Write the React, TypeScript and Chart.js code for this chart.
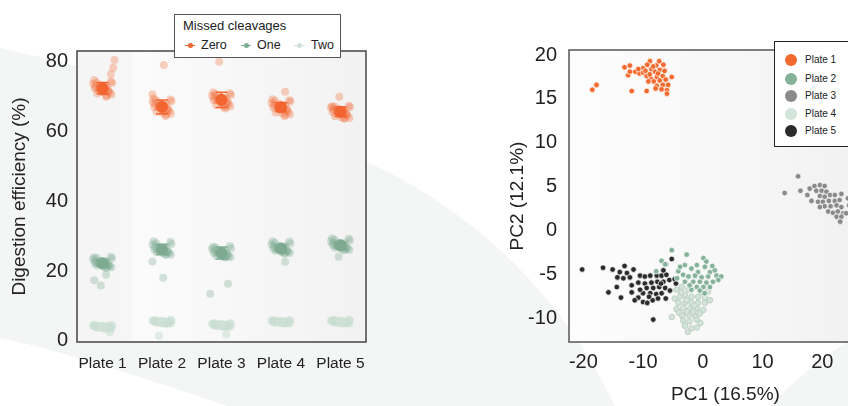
import React, { useEffect, useRef } from "react";
import { Chart, registerables } from "chart.js";

Chart.register(...registerables);

const FONT = "'Liberation Sans', Arial, Helvetica, sans-serif";

// ---------- Left panel data ----------
const PLATES = ["Plate 1", "Plate 2", "Plate 3", "Plate 4", "Plate 5"];
const LEFT_Y_TICKS = [0, 20, 40, 60, 80];
const JITTER = [-0.13, 0.09, -0.04, 0.15, -0.1, 0.02, 0.12, -0.16, 0.06, -0.07, 0.14, -0.01, -0.12, 0.07, 0.04, -0.09, 0.16, -0.05, 0.1, -0.14, 0.01, 0.07];

const ZERO_VALUES = [
  [72.4, 71.6, 73.2, 70.6, 74.0, 72.8, 71.1, 73.7, 70.0, 72.1, 74.4, 71.4, 73.0, 70.3, 72.6, 70.9, 73.9, 72.3, 71.8, 74.8, 71.3, 72.9],
  [67.0, 66.2, 68.1, 65.1, 69.0, 67.6, 65.8, 68.5, 64.5, 66.9, 69.2, 66.5, 67.9, 64.9, 67.3, 65.6, 68.7, 67.2, 66.6, 69.5, 65.4, 67.8],
  [69.0, 68.3, 70.0, 67.2, 70.7, 69.5, 67.9, 70.3, 66.6, 68.9, 71.0, 68.5, 69.8, 67.0, 69.3, 67.6, 70.5, 69.2, 68.7, 71.3, 67.4, 69.7],
  [66.9, 66.1, 67.9, 65.0, 68.8, 67.5, 65.7, 68.3, 64.4, 66.8, 69.0, 66.4, 67.7, 64.8, 67.2, 65.5, 68.6, 67.1, 66.5, 69.3, 65.3, 67.6],
  [65.6, 64.9, 66.5, 63.9, 67.2, 66.1, 64.6, 66.9, 63.7, 65.5, 67.4, 65.1, 66.3, 63.9, 65.9, 64.4, 67.0, 65.8, 65.2, 67.3, 64.2, 66.2],
];
const ONE_VALUES = [
  [22.3, 21.7, 23.0, 21.1, 23.8, 22.6, 21.4, 23.4, 20.9, 22.1, 24.1, 21.9, 22.8, 21.2, 22.5, 21.6, 23.6, 22.2, 21.8, 23.9, 21.3, 22.9],
  [26.2, 25.5, 27.1, 24.7, 28.0, 26.7, 25.2, 27.6, 24.6, 26.0, 28.4, 25.8, 26.9, 24.9, 26.4, 25.4, 27.8, 26.3, 25.7, 28.6, 25.1, 27.0],
  [25.2, 24.6, 26.0, 24.0, 26.8, 25.6, 24.3, 26.4, 23.9, 25.1, 27.2, 24.8, 25.9, 24.1, 25.4, 24.5, 26.6, 25.3, 24.9, 27.0, 24.2, 25.8],
  [26.5, 25.9, 27.3, 25.2, 28.1, 26.9, 25.6, 27.7, 25.0, 26.4, 28.5, 26.1, 27.1, 25.3, 26.7, 25.8, 27.9, 26.6, 26.0, 28.6, 25.5, 27.2],
  [27.4, 26.8, 28.2, 26.1, 29.0, 27.8, 26.5, 28.6, 26.0, 27.3, 29.3, 27.0, 28.0, 26.2, 27.6, 26.7, 28.8, 27.5, 26.9, 29.4, 26.4, 28.1],
];
const TWO_VALUES = [
  [4.0, 3.8, 4.3, 3.6, 4.5, 4.1, 3.7, 4.4, 3.5, 4.0, 4.6, 3.9, 4.2, 3.6, 4.1, 3.8, 4.4, 4.0, 3.9, 4.6, 3.7, 4.2],
  [5.4, 5.2, 5.7, 5.0, 5.9, 5.5, 5.1, 5.8, 4.9, 5.4, 6.0, 5.3, 5.6, 5.0, 5.5, 5.2, 5.8, 5.4, 5.3, 6.0, 5.1, 5.6],
  [4.5, 4.3, 4.8, 4.1, 5.0, 4.6, 4.2, 4.9, 4.0, 4.5, 5.1, 4.4, 4.7, 4.1, 4.6, 4.3, 4.9, 4.5, 4.4, 5.1, 4.2, 4.7],
  [5.4, 5.3, 5.7, 5.0, 5.9, 5.5, 5.2, 5.8, 5.0, 5.4, 6.0, 5.3, 5.6, 5.1, 5.5, 5.2, 5.8, 5.4, 5.3, 5.9, 5.1, 5.6],
  [5.5, 5.3, 5.8, 5.0, 6.0, 5.5, 5.2, 5.8, 5.0, 5.4, 6.1, 5.3, 5.7, 5.1, 5.6, 5.2, 5.9, 5.4, 5.3, 6.0, 5.1, 5.6],
];
// [plate, horizontal jitter, value]
const ZERO_OUTLIERS = [[1, 0.2, 80.5], [1, 0.18, 78.3], [1, 0.14, 76.5], [2, 0.03, 79.1], [2, -0.16, 70.7], [3, -0.04, 80.0], [4, 0.07, 71.4], [5, -0.02, 70.0]];
const ONE_OUTLIERS = [[1, 0.06, 19.0], [1, -0.14, 17.4], [1, -0.03, 15.9], [2, -0.16, 22.8], [2, 0.02, 18.1], [3, 0.11, 16.4], [3, -0.19, 13.5], [4, 0.07, 22.7], [5, -0.03, 24.1]];
const TWO_OUTLIERS = [[1, 0.12, 2.5], [2, -0.05, 1.5], [3, 0.08, 1.9]];

const ZERO_MEAN = [72.4, 67.1, 69.1, 67.0, 65.7];
const ZERO_SD = [1.65, 1.95, 2.2, 1.3, 1.35];
const ONE_MEAN = [22.3, 26.2, 25.2, 26.5, 27.4];
const ONE_SD = [0.9, 1.45, 1.7, 0.9, 0.9];
const TWO_MEAN = [4.0, 5.4, 4.5, 5.4, 5.4];
const TWO_SD = [0, 0, 0, 0, 0];

const C_ZERO = "#F26430";
const C_ONE = "#7DAA91";
const C_TWO = "#CFE1D6";

// ---------- Right panel data ----------
const PC_X_TICKS = [-20, -10, 0, 10, 20];
const PC_Y_TICKS = [-10, -5, 0, 5, 10, 15, 20];
const PLATE1_PC = [[-18.5, 16.05], [-17.8, 16.6], [-13.1, 18.6], [-12.2, 18.8], [-12.5, 17.7], [-12.2, 18.1], [-11.3, 18.1], [-10.6, 17.9], [-10.0, 18.5], [-10.0, 18.0], [-9.4, 17.6], [-8.85, 19.3], [-7.3, 19.3], [-7.8, 18.8], [-6.6, 18.9], [-8.6, 18.4], [-8.0, 18.1], [-7.2, 18.3], [-8.7, 17.3], [-7.7, 17.5], [-6.7, 17.6], [-9.1, 17.0], [-8.2, 17.0], [-7.2, 17.1], [-6.2, 17.2], [-7.7, 16.5], [-6.7, 16.6], [-5.8, 16.6], [-5.2, 17.5], [-6.9, 16.1], [-6.0, 16.0], [-6.0, 15.6], [-11.9, 15.9], [-9.4, 15.9], [-10.8, 18.4], [-9.3, 18.9], [-8.3, 18.7], [-7.5, 17.9], [-8.9, 17.8], [-6.4, 18.2], [-7.9, 16.2], [-9.6, 18.2]];
const PLATE2_PC = [[-5.2, -2.2], [-2.7, -2.7], [-6.9, -3.4], [-6.3, -3.8], [-3.0, -3.9], [-1.9, -4.3], [0.1, -3.1], [0.6, -3.5], [0.35, -4.1], [-0.8, -4.7], [1.2, -4.7], [2.0, -4.5], [-3.3, -5.0], [-2.4, -5.2], [-1.3, -5.1], [-0.2, -5.3], [0.9, -5.2], [2.3, -5.1], [3.1, -5.2], [-3.0, -5.8], [-1.6, -5.8], [-0.5, -5.8], [0.6, -5.9], [1.7, -5.8], [-1.0, -6.4], [0.1, -6.4], [1.2, -6.4], [-1.9, -6.7], [-0.5, -6.8], [-7.8, -4.6], [-4.1, -4.6], [-3.8, -4.1], [-1.0, -3.9], [1.6, -4.0], [2.6, -5.6], [-2.2, -6.2], [-4.3, -5.4], [0.3, -7.1]];
const PLATE3_PC = [[15.95, 6.2], [13.7, 4.3], [16.35, 4.56], [17.5, 4.07], [17.9, 4.8], [18.7, 5.1], [19.6, 5.2], [20.4, 5.1], [19.0, 4.56], [19.9, 4.56], [20.7, 4.45], [19.6, 3.96], [20.4, 3.88], [21.3, 4.07], [22.1, 4.07], [23.2, 4.2], [18.2, 3.4], [19.3, 3.3], [20.1, 3.3], [21.1, 3.4], [22.1, 3.4], [22.9, 3.5], [20.4, 2.8], [21.4, 2.8], [22.4, 2.9], [23.2, 2.7], [19.6, 2.7], [21.0, 2.2], [21.8, 2.06], [22.6, 2.2], [23.5, 2.0], [22.4, 1.6], [23.2, 1.6], [23.0, 1.04], [24.0, 2.0], [24.5, 2.9], [25.2, 2.4], [24.8, 1.5], [25.8, 2.0], [24.3, 3.7], [25.5, 3.2]];
const PLATE4_PC = [[-5.2, -9.8], [-4.4, -6.7], [-3.8, -7.5], [-3.0, -7.3], [-1.9, -7.5], [-0.8, -7.5], [0.35, -7.6], [-4.1, -8.2], [-3.0, -8.2], [-1.9, -8.2], [-0.8, -8.2], [0.35, -8.2], [-4.4, -8.9], [-3.3, -8.8], [-2.2, -8.9], [-1.0, -8.8], [0.1, -9.0], [-3.5, -9.6], [-2.4, -9.6], [-1.3, -9.7], [-3.3, -10.2], [-2.2, -10.3], [-1.0, -10.1], [-3.0, -10.8], [-1.9, -11.1], [-1.0, -11.0], [0.9, -6.9], [-0.2, -7.0], [-2.4, -6.7], [-3.5, -6.4], [-4.7, -7.7], [-2.7, -7.9], [-1.6, -9.2], [-0.5, -9.4], [-2.7, -9.2], [1.2, -7.9], [-4.0, -9.3], [-2.5, -11.5], [-0.4, -10.5], [-1.4, -8.5], [-3.6, -7.0]];
const PLATE5_PC = [[-20.2, -4.4], [-16.7, -4.2], [-15.1, -4.4], [-13.1, -4.0], [-11.6, -4.4], [-13.9, -4.7], [-12.7, -4.8], [-14.3, -5.3], [-13.3, -5.4], [-12.2, -5.3], [-14.4, -6.4], [-15.8, -7.0], [-13.7, -7.6], [-11.9, -6.2], [-11.9, -7.0], [-10.5, -5.1], [-9.7, -5.2], [-8.8, -5.1], [-7.7, -5.1], [-6.9, -5.1], [-6.1, -5.0], [-10.8, -5.9], [-9.7, -6.0], [-8.6, -5.9], [-7.6, -5.8], [-6.6, -5.8], [-5.6, -5.6], [-4.7, -5.5], [-4.5, -6.0], [-9.4, -6.5], [-8.3, -6.5], [-7.3, -6.4], [-6.3, -6.5], [-10.0, -7.1], [-8.8, -7.1], [-7.8, -7.2], [-6.9, -7.1], [-10.8, -7.6], [-10.0, -8.1], [-9.3, -8.2], [-8.4, -7.9], [-7.5, -7.7], [-6.2, -7.7], [-11.4, -7.9], [-6.6, -4.5], [-6.2, -3.8], [-5.2, -3.2], [-8.3, -10.1], [-10.5, -6.7], [-9.0, -7.5], [-7.0, -6.0], [-5.5, -6.8]];

const PLATE_COLORS = ["#F26A2D", "#86B29A", "#8A8A8A", "#D3E5DA", "#2A2C2B"];

// ---------- helpers ----------
function cloud(values: number[][], outliers: number[][]) {
  const pts: { x: number; y: number }[] = [];
  values.forEach((vals, p) => vals.forEach((v, i) => pts.push({ x: p + 1 + JITTER[i], y: v })));
  outliers.forEach(([p, dx, v]) => pts.push({ x: p + dx, y: v }));
  return pts;
}
function means(m: number[]) {
  return m.map((v, i) => ({ x: i + 1, y: v }));
}

function panelPlugin(stops: [number, string][], borderColor: string) {
  return {
    id: "panel",
    beforeDatasetsDraw(chart: any) {
      const { ctx, chartArea } = chart;
      const { left, top, right, bottom } = chartArea;
      const g = ctx.createLinearGradient(left, 0, right, 0);
      stops.forEach(([o, c]) => g.addColorStop(o, c));
      ctx.save();
      ctx.fillStyle = g;
      ctx.fillRect(left, top, right - left, bottom - top);
      ctx.restore();
    },
    afterDraw(chart: any) {
      const { ctx, chartArea } = chart;
      const { left, top, right, bottom } = chartArea;
      ctx.save();
      ctx.strokeStyle = borderColor;
      ctx.lineWidth = 1.5;
      ctx.strokeRect(left, top, right - left, bottom - top);
      ctx.restore();
    },
  };
}

const errorBarPlugin = {
  id: "errorbars",
  beforeDatasetDraw(chart: any, args: any) {
    const ds = chart.data.datasets[args.index];
    if (!ds.errors) return;
    const { ctx, scales } = chart;
    ctx.save();
    ctx.strokeStyle = ds.backgroundColor;
    ctx.lineWidth = 1.5;
    ds.data.forEach((pt: any, i: number) => {
      if (!ds.errors[i]) return;
      const x = scales.x.getPixelForValue(pt.x);
      const y1 = scales.y.getPixelForValue(pt.y + ds.errors[i]);
      const y2 = scales.y.getPixelForValue(pt.y - ds.errors[i]);
      ctx.beginPath();
      ctx.moveTo(x, y1);
      ctx.lineTo(x, y2);
      ctx.moveTo(x - 6, y1);
      ctx.lineTo(x + 6, y1);
      ctx.moveTo(x - 6, y2);
      ctx.lineTo(x + 6, y2);
      ctx.stroke();
    });
    ctx.restore();
  },
};

function LeftChart() {
  const ref = useRef<HTMLCanvasElement>(null);
  useEffect(() => {
    const chart = new Chart(ref.current as HTMLCanvasElement, {
      type: "scatter",
      data: {
        datasets: [
          { data: means(ZERO_MEAN), backgroundColor: C_ZERO, pointRadius: 6, borderWidth: 0, order: 1, errors: ZERO_SD } as any,
          { data: means(ONE_MEAN), backgroundColor: C_ONE, pointRadius: 6, borderWidth: 0, order: 2, errors: ONE_SD } as any,
          { data: means(TWO_MEAN), backgroundColor: C_TWO, pointRadius: 5, borderWidth: 0, order: 3, errors: TWO_SD } as any,
          { data: cloud(ZERO_VALUES, ZERO_OUTLIERS), backgroundColor: "rgba(242,106,52,0.3)", pointRadius: 4, borderWidth: 0, order: 10 },
          { data: cloud(ONE_VALUES, ONE_OUTLIERS), backgroundColor: "rgba(125,170,145,0.32)", pointRadius: 4, borderWidth: 0, order: 11 },
          { data: cloud(TWO_VALUES, TWO_OUTLIERS), backgroundColor: "rgba(200,222,209,0.55)", pointRadius: 4, borderWidth: 0, order: 12 },
        ],
      },
      options: {
        responsive: false,
        animation: false,
        layout: { padding: { top: 51, right: 34, left: 0, bottom: 0 } },
        plugins: { legend: { display: false }, tooltip: { enabled: false } },
        scales: {
          x: {
            type: "linear",
            min: 0.57,
            max: 5.43,
            afterBuildTicks: (s: any) => { s.ticks = PLATES.map((_, i) => ({ value: i + 1 })); },
            afterFit: (s: any) => { s.height = 64; },
            ticks: { callback: (v: any) => PLATES[Math.round(v) - 1], font: { size: 15.5, family: FONT }, color: "#222", padding: 12, autoSkip: false, maxRotation: 0 },
            grid: { display: false, drawTicks: false },
            border: { display: false },
          },
          y: {
            min: -0.3,
            max: 83.1,
            afterBuildTicks: (s: any) => { s.ticks = LEFT_Y_TICKS.map((v) => ({ value: v })); },
            afterFit: (s: any) => { s.width = 77; },
            ticks: { font: { size: 20, family: FONT }, color: "#222", padding: 9 },
            grid: { display: false, drawTicks: false },
            border: { display: false },
            title: { display: true, text: "Digestion efficiency (%)", font: { size: 19, family: FONT }, color: "#222", padding: { top: 8.6, bottom: 0 } },
          },
        },
      } as any,
      plugins: [panelPlugin([[0, "#f4f5f4"], [0.18, "#f6f6f6"], [0.2, "#fbfbfb"], [1, "#f2f2f2"]], "#444"), errorBarPlugin],
    });
    return () => chart.destroy();
  }, []);
  return <canvas ref={ref} width={400} height={406} style={{ position: "absolute", left: 0, top: 0, width: 400, height: 406 }} />;
}

function RightChart() {
  const ref = useRef<HTMLCanvasElement>(null);
  useEffect(() => {
    const sets = [PLATE1_PC, PLATE2_PC, PLATE3_PC, PLATE4_PC, PLATE5_PC];
    const chart = new Chart(ref.current as HTMLCanvasElement, {
      type: "scatter",
      data: {
        datasets: sets.map((pts, i) => ({
          label: `Plate ${i + 1}`,
          data: pts.map(([x, y]) => ({ x, y })),
          backgroundColor: PLATE_COLORS[i],
          borderColor: i === 3 ? "#b8c8bd" : "rgba(255,255,255,0.85)",
          borderWidth: 0.8,
          pointRadius: 2.8,
        })),
      },
      options: {
        responsive: false,
        animation: false,
        layout: { padding: { top: 50, right: 18, left: 0, bottom: 0 } },
        plugins: { legend: { display: false }, tooltip: { enabled: false } },
        scales: {
          x: {
            type: "linear",
            min: -22.4,
            max: 30,
            afterBuildTicks: (s: any) => { s.ticks = PC_X_TICKS.map((v) => ({ value: v })); },
            afterFit: (s: any) => { s.height = 64; },
            ticks: { font: { size: 20, family: FONT }, color: "#222", padding: 8, maxRotation: 0, autoSkip: false },
            grid: { display: false, drawTicks: false },
            border: { display: false },
            title: { display: true, text: "PC1 (16.5%)", font: { size: 19, family: FONT }, color: "#222", padding: { top: 0, bottom: 0 } },
          },
          y: {
            min: -12.65,
            max: 20.57,
            afterBuildTicks: (s: any) => { s.ticks = PC_Y_TICKS.map((v) => ({ value: v })); },
            afterFit: (s: any) => { s.width = 69; },
            ticks: { font: { size: 20, family: FONT }, color: "#222", padding: 12 },
            grid: { display: false, drawTicks: false },
            border: { display: false },
            title: { display: true, text: "PC2 (12.1%)", font: { size: 19, family: FONT }, color: "#222", padding: { top: 6.6, bottom: 0 } },
          },
        },
      } as any,
      plugins: [panelPlugin([[0, "#fdfdfd"], [0.6, "#f6f6f6"], [1, "#f0f0f0"]], "#555")],
    });
    return () => chart.destroy();
  }, []);
  return <canvas ref={ref} width={400} height={406} style={{ position: "absolute", left: 500, top: 0, width: 400, height: 406 }} />;
}

function LeftLegend() {
  const items = [
    { label: "Zero", color: C_ZERO, mx: 10, tx: 26 },
    { label: "One", color: C_ONE, mx: 66, tx: 82 },
    { label: "Two", color: C_TWO, mx: 119, tx: 136 },
  ];
  return (
    <div style={{ position: "absolute", left: 174, top: 14, width: 167, height: 44, boxSizing: "border-box", border: "1px solid #555", background: "#fff", fontFamily: FONT, color: "#222" }}>
      <div style={{ position: "absolute", left: 8, top: 3, fontSize: 13, lineHeight: "16px", whiteSpace: "nowrap" }}>Missed cleavages</div>
      {items.map((it) => (
        <React.Fragment key={it.label}>
          <div style={{ position: "absolute", left: it.mx, top: 29.5, width: 10, height: 1.5, background: it.color }} />
          <div style={{ position: "absolute", left: it.mx + 2.5, top: 27.7, width: 5, height: 5, borderRadius: "50%", background: it.color }} />
          <div style={{ position: "absolute", left: it.tx, top: 22, fontSize: 12.5, lineHeight: "16px", whiteSpace: "nowrap" }}>{it.label}</div>
        </React.Fragment>
      ))}
    </div>
  );
}

function RightLegend() {
  const ys = [18.3, 36.7, 54, 71.7, 89.3];
  return (
    <div style={{ position: "absolute", left: 774, top: 41, width: 80, height: 106, boxSizing: "border-box", border: "1px solid #222", background: "#fff", fontFamily: FONT, color: "#222" }}>
      {PLATE_COLORS.map((c, i) => (
        <React.Fragment key={i}>
          <div style={{ position: "absolute", left: 10, top: ys[i] - 6, width: 12, height: 12, borderRadius: "50%", background: c }} />
          <div style={{ position: "absolute", left: 30, top: ys[i] - 7, fontSize: 10, lineHeight: "14px", whiteSpace: "nowrap" }}>{`Plate ${i + 1}`}</div>
        </React.Fragment>
      ))}
    </div>
  );
}

export default function App() {
  return (
    <div style={{ position: "fixed", left: 0, top: 0, width: 848, height: 406, overflow: "hidden", background: "#fff" }}>
      <svg width={848} height={406} style={{ position: "absolute", left: 0, top: 0 }}>
        <path d="M0,48 C150,80 300,130 380,168 C470,212 560,290 615,406 L227,406 C150,380 60,350 0,338 Z" fill="#f4f6f5" />
        <path d="M770,406 C800,375 825,355 848,342 L848,406 Z" fill="#f4f6f5" />
      </svg>
      <LeftChart />
      <RightChart />
      <LeftLegend />
      <RightLegend />
    </div>
  );
}
